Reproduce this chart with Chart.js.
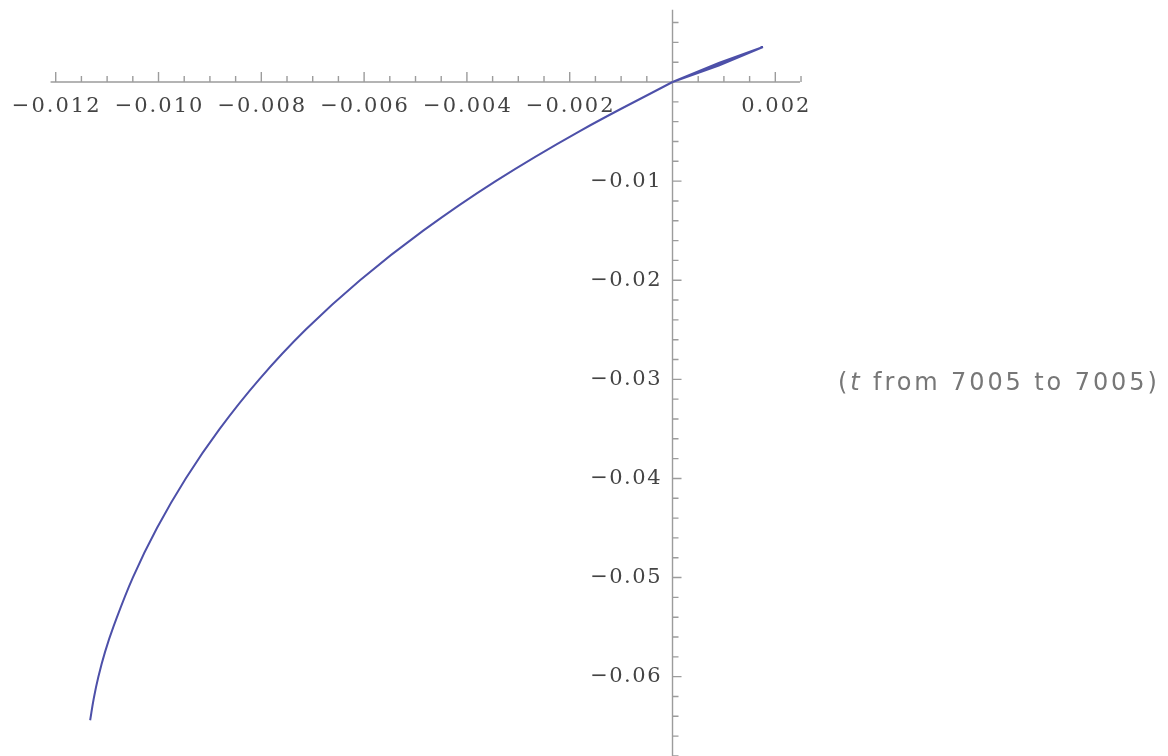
<!DOCTYPE html>
<html>
<head>
<meta charset="utf-8">
<script src="https://cdn.jsdelivr.net/npm/chart.js@4.4.0/dist/chart.umd.min.js"></script>
<style>
  html, body { margin: 0; padding: 0; background: #fff; }
  #wrap { width: 1168px; height: 756px; position: relative; }
</style>
</head>
<body>
<div id="wrap"><canvas id="plot"></canvas></div>
<script>
// curve, from the lower-left end up to the origin
const curveX = [-0.01133, -0.01126, -0.01117, -0.01104, -0.01088, -0.01050, -0.01003, -0.00947, -0.00881,
  -0.00804, -0.00714, -0.00608, -0.00485, -0.00344, -0.00182, 0];
const curveY = [-0.0644, -0.0622, -0.0600, -0.0575, -0.0550, -0.0500, -0.0450, -0.0400, -0.0350,
  -0.0300, -0.0250, -0.0200, -0.0150, -0.0100, -0.0050, 0];

// the thin loop to the right of the origin
const loopX = [0, 0.00090, 0.00176, 0.00090, 0, 0.00090, 0.00176];
const loopY = [0, 0.00192, 0.00353, 0.00166, 0, 0.00182, 0.00353];

// tick labels
const xTickValues = [-0.012, -0.010, -0.008, -0.006, -0.004, -0.002, 0.002];
const xTickLabels = ['\u22120.012', '\u22120.010', '\u22120.008', '\u22120.006', '\u22120.004', '\u22120.002', '0.002'];
const yTickValues = [-0.01, -0.02, -0.03, -0.04, -0.05, -0.06];
const yTickLabels = ['\u22120.01', '\u22120.02', '\u22120.03', '\u22120.04', '\u22120.05', '\u22120.06'];
const noteParts = ['(', 't', ' from 7005 to 7005)'];

const toPoints = (xs, ys) => xs.map((x, i) => ({ x: x, y: ys[i] }));

// axes through the origin, drawn with the chart's own scales
const mathAxes = {
  id: 'mathAxes',
  beforeDatasetsDraw(chart) {
    const ctx = chart.ctx;
    const sx = chart.scales.x, sy = chart.scales.y;
    const ox = sx.getPixelForValue(0), oy = sy.getPixelForValue(0);
    ctx.save();
    ctx.strokeStyle = '#9c9c9c';
    ctx.lineWidth = 1.4;

    // axis lines
    ctx.beginPath();
    ctx.moveTo(sx.getPixelForValue(-0.0121), oy);
    ctx.lineTo(sx.getPixelForValue(0.00248), oy);
    ctx.moveTo(ox, sy.getPixelForValue(0.0073));
    ctx.lineTo(ox, sy.getPixelForValue(-0.07));
    ctx.stroke();

    // x ticks, pointing up
    ctx.beginPath();
    for (let i = -24; i <= 5; i++) {
      if (i === 0) continue;
      const px = sx.getPixelForValue(i * 0.0005);
      const len = i % 4 === 0 ? 10 : 6;
      ctx.moveTo(px, oy);
      ctx.lineTo(px, oy - len);
    }
    // y ticks, pointing right
    for (let i = 3; i >= -34; i--) {
      if (i === 0) continue;
      const py = sy.getPixelForValue(i * 0.002);
      const len = i % 5 === 0 ? 9 : 6;
      ctx.moveTo(ox, py);
      ctx.lineTo(ox + len, py);
    }
    ctx.stroke();

    // tick labels
    ctx.fillStyle = '#444';
    ctx.font = '21px "DejaVu Serif"';
    ctx.textAlign = 'center';
    ctx.textBaseline = 'middle';
    ctx.letterSpacing = '2px';
    xTickValues.forEach((v, i) => {
      ctx.fillText(xTickLabels[i], sx.getPixelForValue(v) + 1, oy + 25);
    });
    ctx.textAlign = 'right';
    ctx.letterSpacing = '1.5px';
    yTickValues.forEach((v, i) => {
      ctx.fillText(yTickLabels[i], ox - 10.5, sy.getPixelForValue(v));
    });

    // parameter note
    ctx.fillStyle = '#777';
    ctx.textAlign = 'left';
    ctx.letterSpacing = '2.9px';
    let nx = 838;
    const ny = sy.getPixelForValue(-0.0304);
    noteParts.forEach((s, i) => {
      ctx.font = (i === 1 ? 'italic ' : '') + '24px "DejaVu Sans"';
      ctx.fillText(s, nx, ny);
      nx += ctx.measureText(s).width;
    });
    ctx.restore();
  }
};

const lineStyle = {
  showLine: true,
  borderColor: '#4d50a9',
  borderWidth: 2,
  pointRadius: 0,
  fill: false
};

new Chart(document.getElementById('plot').getContext('2d'), {
  type: 'scatter',
  data: {
    datasets: [
      Object.assign({ label: 'curve', data: toPoints(curveX, curveY), tension: 0.4 }, lineStyle),
      Object.assign({ label: 'loop', data: toPoints(loopX, loopY), tension: 0 }, lineStyle)
    ]
  },
  options: {
    responsive: true,
    maintainAspectRatio: false,
    animation: false,
    layout: { padding: 0 },
    plugins: { legend: { display: false }, tooltip: { enabled: false } },
    scales: {
      x: { type: 'linear', min: -0.013084, max: 0.009640, display: false },
      y: { type: 'linear', min: -0.068005, max: 0.008274, display: false }
    }
  },
  plugins: [mathAxes]
});
</script>
</body>
</html>
